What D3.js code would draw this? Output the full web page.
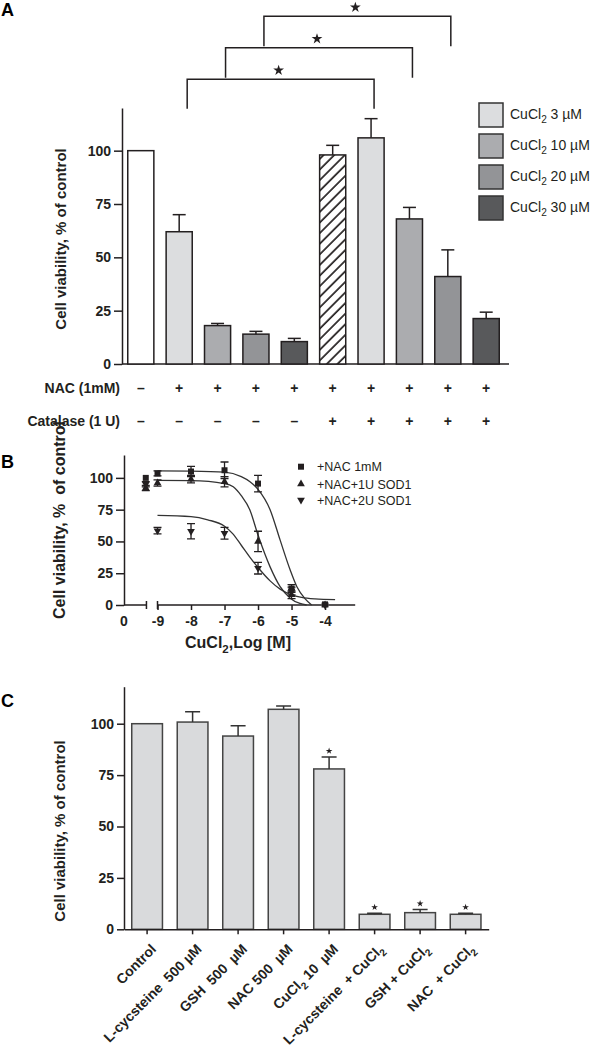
<!DOCTYPE html>
<html><head><meta charset="utf-8">
<script src="https://cdn.jsdelivr.net/npm/d3@7"></script>
<style>
body{margin:0;background:#fff}
svg{display:block}
text{font-family:"Liberation Sans",Arial,Helvetica,sans-serif;white-space:pre}
</style>
</head><body>
<svg id="chart" width="595" height="1050"></svg>
<script>
// ---------- Panel A data ----------
const aGroups = ["Control","CuCl2 3","CuCl2 10","CuCl2 20","CuCl2 30","NAC+Cat","Cat CuCl2 3","Cat CuCl2 10","Cat CuCl2 20","Cat CuCl2 30"];
const aValues = [100, 62, 18, 14, 10.5, 98, 106, 68, 41, 21.3];
const aErrors = [0, 8, 1, 1.3, 1.5, 4.5, 9, 5.4, 12.5, 3];
const aDose   = ["none","3","10","20","30","hatch","3","10","20","30"];
const nacSigns      = ["–","+","+","+","+","+","+","+","+","+"];
const catalaseSigns = ["–","–","–","–","–","+","+","+","+","+"];
const aRowLabels = ["NAC (1mM)","Catalase (1 U)"];
const aTicks = [0,25,50,75,100];
const legendDoses = ["3","10","20","30"];
const brackets = [[1,6],[2,7],[3,8]];

// ---------- Panel B data ----------
const bSeries = ["+NAC 1mM","+NAC+1U SOD1","+NAC+2U SOD1"];
const bLogConc = [-9.35,-9,-8,-7,-6,-5,-4];
const bNac     = [100,103.5,105,106,95.5,13,0.5];
const bNacErr  = [0,2,4,6.5,6.5,3,0];
const bSod1    = [92,96,99,97,50,8,0];
const bSod1Err = [2,2.5,3,4,8,3,0];
const bSod2    = [95,58.5,58,56.5,29,11,0];
const bSod2Err = [2,2.6,6,4.6,4.6,3,0];
const bXTicks = [-9,-8,-7,-6,-5,-4];
const bYTicks = [0,25,50,75,100];
// fitted curves: [log M, viability]
const fitNac  = [[-9,105.5],[-8,105.3],[-7,104.5],[-6.5,101],[-6.24,97],[-6,91],[-5.64,75],[-5.34,51],[-5.04,27.5],[-4.84,14.4],[-4.6,5],[-4.4,0]];
const fitSod1 = [[-9,98],[-8,97.8],[-7,95.5],[-6.74,93],[-6.5,86],[-6.24,74.6],[-6,55],[-5.64,30],[-5.34,14.4],[-5.04,5.4],[-4.75,1.2],[-4.55,0]];
const fitSod2 = [[-9,70.5],[-8,69.5],[-7.5,67],[-7,62],[-6.75,56],[-6.5,47],[-6.24,37.5],[-6,29.5],[-5.64,19],[-5.34,12.5],[-5,8],[-4.7,6],[-4.3,4.8],[-3.7,4.2]];

// ---------- Panel C data ----------
const cLabels = ["Control","L-cycsteine  500 µM","GSH  500  µM","NAC 500  µM","CuCl{2} 10  µM","L-cycsteine  + CuCl{2}","GSH + CuCl{2}","NAC  + CuCl{2}"];
const cValues = [100,100.8,94,107,78,7.3,8.1,7.3];
const cErrors = [0,5,5,1.6,5.8,0.5,1.5,0.5];
const cStars  = [false,false,false,false,true,true,true,true];
const cYTicks = [0,25,50,75,100];

// ---------- helpers ----------
const INK = "#231f20";
const svg = d3.select("#chart");
const defs = svg.append("defs");
defs.append("pattern").attr("id","hatch").attr("patternUnits","userSpaceOnUse")
  .attr("width",7.5).attr("height",7.5).attr("patternTransform","rotate(45)")
  .call(p=>{p.append("rect").attr("width",7.5).attr("height",7.5).attr("fill","#fff");
            p.append("line").attr("x1",1).attr("y1",0).attr("x2",1).attr("y2",7.5).attr("stroke",INK).attr("stroke-width",1.7);});
const doseFill = {none:"#ffffff","3":"#dcdddf","10":"#abacaf","20":"#939497","30":"#58595b",hatch:"url(#hatch)"};

function rich(sel, str, size){
  const parts = str.split(/(\{[^}]*\})/).filter(s=>s.length);
  let sub = false;
  parts.forEach(p=>{
    if (p[0]==="{"){ sel.append("tspan").attr("font-size",size*0.72).attr("dy",size*0.3).text(p.slice(1,-1)); sub=true; }
    else { const t = sel.append("tspan").text(p); if(sub){t.attr("dy",-size*0.3); sub=false;} }
  });
  return sel;
}
function styleAxis(g, fs){
  g.selectAll("path,line").attr("stroke",INK).attr("stroke-width",1.5);
  g.selectAll("text").attr("font-size",fs).attr("font-weight","bold").attr("fill",INK)
   .attr("font-family",'"Liberation Sans",Arial,sans-serif');
}
const star = d3.symbol().type(d3.symbolStar);

// ================= PANEL A =================
svg.append("text").attr("x",1).attr("y",16).attr("font-size",18).attr("font-weight","bold").text("A");
const yA = d3.scaleLinear().domain([0,120]).range([364,108]);
const xA = d3.scaleBand().domain(aGroups).range([122,505]).paddingInner(0.32).paddingOuter(0.15);
const cxA = i => xA(aGroups[i]) + xA.bandwidth()/2;

const gA = svg.append("g");
gA.append("g").attr("transform","translate(122,0)")
  .call(d3.axisLeft(yA).tickValues(aTicks).tickSize(8).tickSizeOuter(0).tickPadding(3))
  .call(g=>styleAxis(g,14));
gA.append("line").attr("x1",122).attr("x2",509).attr("y1",yA(0)).attr("y2",yA(0)).attr("stroke",INK).attr("stroke-width",1.5);

gA.selectAll("rect.bar").data(aGroups).join("rect").attr("class","bar")
  .attr("x",d=>xA(d)).attr("width",xA.bandwidth())
  .attr("y",(d,i)=>yA(aValues[i])).attr("height",(d,i)=>yA(0)-yA(aValues[i]))
  .attr("fill",(d,i)=>doseFill[aDose[i]]).attr("stroke",INK).attr("stroke-width",1.5);

aGroups.forEach((d,i)=>{
  if(!aErrors[i]) return;
  const cx = cxA(i), y0 = yA(aValues[i]), y1 = yA(aValues[i]+aErrors[i]);
  gA.append("line").attr("x1",cx).attr("x2",cx).attr("y1",y0).attr("y2",y1).attr("stroke",INK).attr("stroke-width",1.5);
  gA.append("line").attr("x1",cx-6.5).attr("x2",cx+6.5).attr("y1",y1).attr("y2",y1).attr("stroke",INK).attr("stroke-width",1.5);
});

// brackets
brackets.forEach(([i,j],k)=>{
  const l = cxA(i)+8, r = cxA(j)+3;
  const yH = 79.3 - 31.5*k;
  const yBot = k===0 ? 108.7 : yH + 30;
  gA.append("path").attr("d",`M${l},${yBot}V${yH}H${r}V${yBot}`)
    .attr("fill","none").attr("stroke",INK).attr("stroke-width",1.5);
  gA.append("path").attr("d",star.size(36)()).attr("fill",INK)
    .attr("transform",`translate(${(l+r)/2-2},${yH-9})`);
});

// legend
legendDoses.forEach((d,i)=>{
  const y = 103 + 31*i;
  gA.append("rect").attr("x",479).attr("y",y).attr("width",24).attr("height",24)
    .attr("fill",doseFill[d]).attr("stroke","#333").attr("stroke-width",1.5);
  rich(gA.append("text").attr("x",510).attr("y",y+16).attr("font-size",14).attr("fill",INK), `CuCl{2} ${d} µM`, 14);
});

// row labels
[[nacSigns,393],[catalaseSigns,426]].forEach(([signs,y],r)=>{
  gA.append("text").attr("x",120).attr("y",y).attr("text-anchor","end").attr("font-size",14)
    .attr("font-weight","bold").attr("fill",INK).text(aRowLabels[r]);
  signs.forEach((s,i)=>{
    gA.append("text").attr("x",cxA(i)).attr("y",y).attr("text-anchor","middle").attr("font-size",14)
      .attr("font-weight","bold").attr("fill",INK).text(s);
  });
});
gA.append("text").attr("transform","translate(66,239) rotate(-90)").attr("text-anchor","middle")
  .attr("font-size",15).attr("font-weight","bold").attr("fill",INK).text("Cell viability, % of control");

// ================= PANEL B =================
svg.append("text").attr("x",1).attr("y",468).attr("font-size",18).attr("font-weight","bold").text("B");
const xB = d3.scaleLinear().domain([-10,-3.1]).range([124,355.2]);
const yB = d3.scaleLinear().domain([0,118]).range([605,455]);
const gB = svg.append("g");
gB.append("g").attr("transform","translate(124,0)")
  .call(d3.axisLeft(yB).tickValues(bYTicks).tickSize(8).tickSizeOuter(0).tickPadding(3))
  .call(g=>styleAxis(g,14));
const xAxB = gB.append("g").attr("transform",`translate(0,${yB(0)})`)
  .call(d3.axisBottom(xB).tickValues(bXTicks).tickSize(5).tickSizeOuter(0).tickPadding(6).tickFormat(d=>String(d)))
  .call(g=>g.select(".domain").remove())
  .call(g=>styleAxis(g,14));
// "0" label for control
xAxB.append("text").attr("x",xB(-10)).attr("y",11).attr("dy","0.71em").attr("text-anchor","middle")
  .attr("font-size",14).attr("font-weight","bold").attr("fill",INK).text("0");
// broken axis segments
const brk1 = xB(-9.33), brk2 = xB(-9);
gB.append("path").attr("d",`M${xB(-10)},${yB(0)}H${brk1}M${brk1},${yB(0)-4}V${yB(0)+4}M${brk2},${yB(0)-4}V${yB(0)+4}M${brk2},${yB(0)}H${xB(-3.1)}`)
  .attr("fill","none").attr("stroke",INK).attr("stroke-width",1.5);

const lineB = d3.line().x(d=>xB(d[0])).y(d=>yB(d[1])).curve(d3.curveMonotoneX);
[fitNac,fitSod1,fitSod2].forEach(f=>{
  gB.append("path").attr("d",lineB(f)).attr("fill","none").attr("stroke","#333").attr("stroke-width",1.3);
});
const markerTypes = [d3.symbolSquare, d3.symbolTriangle, d3.symbolTriangle];
const markerSize = [36, 26, 26];
const markerRot = [0, 0, 180];
const bVals = [bNac,bSod1,bSod2], bErrs=[bNacErr,bSod1Err,bSod2Err];
bVals.forEach((vals,s)=>{
  vals.forEach((v,i)=>{
    const x = xB(bLogConc[i]), e = bErrs[s][i];
    if(e){
      const y1=yB(v+e), y2=yB(v-e);
      gB.append("path").attr("d",`M${x},${y1}V${y2}M${x-4},${y1}H${x+4}M${x-4},${y2}H${x+4}`)
        .attr("stroke",INK).attr("stroke-width",1.3).attr("fill","none");
    }
    gB.append("path").attr("d",d3.symbol().type(markerTypes[s]).size(markerSize[s])())
      .attr("transform",`translate(${x},${yB(v)}) rotate(${markerRot[s]})`).attr("fill",INK);
  });
});
// legend B
bSeries.forEach((name,s)=>{
  const y = [466.7,484,500][s];
  gB.append("path").attr("d",d3.symbol().type(markerTypes[s]).size(markerSize[s])())
    .attr("transform",`translate(301,${y}) rotate(${markerRot[s]})`).attr("fill",INK);
  gB.append("text").attr("x",317).attr("y",y+4.5).attr("font-size",12.5).attr("fill",INK).text(name);
});
rich(gB.append("text").attr("x",238).attr("y",648).attr("text-anchor","middle").attr("font-size",16)
  .attr("font-weight","bold").attr("fill",INK), "CuCl{2},Log [M]", 16);
gB.append("text").attr("transform","translate(65,520) rotate(-90)").attr("text-anchor","middle")
  .attr("font-size",16).attr("font-weight","bold").attr("fill",INK).text("Cell viability, %  of control");

// ================= PANEL C =================
svg.append("text").attr("x",1).attr("y",707).attr("font-size",18).attr("font-weight","bold").text("C");
const xC = d3.scaleBand().domain(cLabels).range([124,488.7]).paddingInner(0.325).paddingOuter(0.17);
const yC = d3.scaleLinear().domain([0,118]).range([929.3,686.7]);
const cxC = i => xC(cLabels[i]) + xC.bandwidth()/2;
const gC = svg.append("g");
gC.selectAll("rect").data(cLabels).join("rect")
  .attr("x",d=>xC(d)).attr("width",xC.bandwidth())
  .attr("y",(d,i)=>yC(cValues[i])).attr("height",(d,i)=>yC(0)-yC(cValues[i]))
  .attr("fill","#d9dadc").attr("stroke","#444").attr("stroke-width",1.5);
cLabels.forEach((d,i)=>{
  const cx = cxC(i);
  let top = yC(cValues[i]);
  if(cErrors[i]){
    const y1 = yC(cValues[i]+cErrors[i]);
    gC.append("path").attr("d",`M${cx},${top}V${y1}M${cx-7.5},${y1}H${cx+7.5}`).attr("stroke","#333").attr("stroke-width",1.5);
    top = y1;
  }
  if(cStars[i]) gC.append("path").attr("d",star.size(14)()).attr("fill",INK).attr("transform",`translate(${cx},${top-6})`);
});
gC.append("g").attr("transform","translate(124,0)")
  .call(d3.axisLeft(yC).tickValues(cYTicks).tickSize(7).tickSizeOuter(0).tickPadding(3))
  .call(g=>styleAxis(g,14));
gC.append("g").attr("transform",`translate(0,${yC(0)})`)
  .call(d3.axisBottom(xC).tickSize(5).tickSizeOuter(0).tickFormat(""))
  .call(g=>styleAxis(g,14));
cLabels.forEach((d,i)=>{
  rich(gC.append("text").attr("transform",`translate(${cxC(i)+10},950) rotate(-45)`).attr("text-anchor","end")
    .attr("font-size",14).attr("font-weight","bold").attr("fill",INK), d, 14);
});
gC.append("text").attr("transform","translate(65,831) rotate(-90)").attr("text-anchor","middle")
  .attr("font-size",15).attr("font-weight","bold").attr("fill",INK).text("Cell viability, % of control");
</script>
</body></html>
